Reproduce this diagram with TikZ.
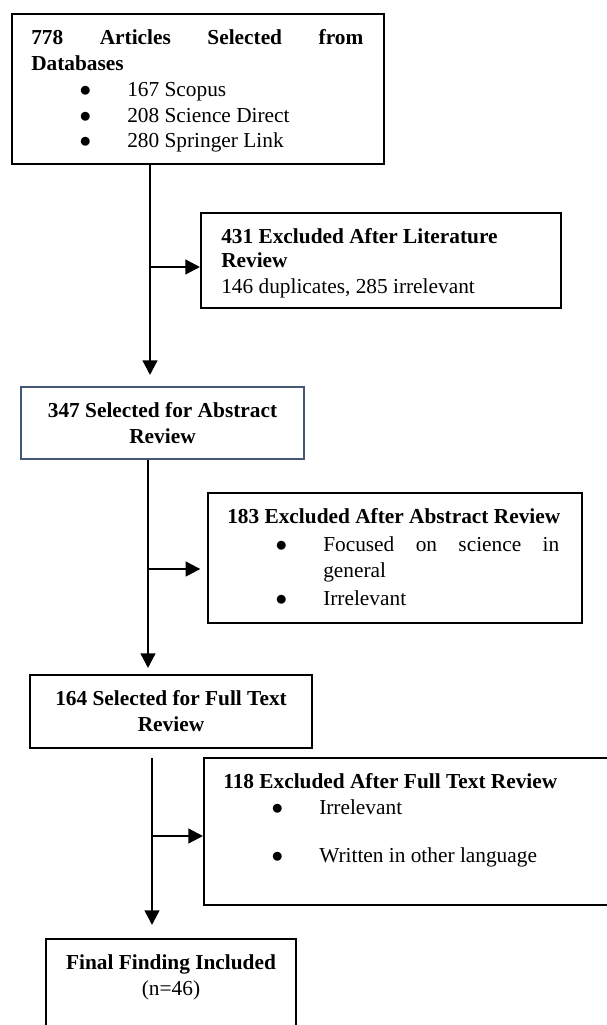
\documentclass[tikz,border=0pt]{standalone}
\usepackage{fontspec}
\setmainfont{Liberation Serif}
\usetikzlibrary{arrows.meta}

\definecolor{boxblue}{RGB}{68,87,117}

% text set inside every box
\newcommand{\boxfont}{\fontsize{16}{19.3}\selectfont\setlength\parindent{0pt}%
  \hyphenpenalty=10000\relax}
% one bulleted line, hanging under its own text
\newcommand{\bitem}[1]{\par\hangindent=72pt\hangafter=0\noindent\llap{\makebox[63pt]{$\bullet$}}#1\par}

\tikzset{
  box/.style={draw, line width=1.5pt, anchor=north west, inner sep=0pt},
  txt/.style={inner sep=0pt, font=\boxfont},
  flow/.style={line width=1.7pt, -{Triangle[length=11pt,width=11pt]}},
}

\begin{document}
\begin{tikzpicture}[x=0.75pt, y=-0.75pt]
  \useasboundingbox (0,0) rectangle (607,1025);
  \clip (0,0) rectangle (607,1025);

  % Records found in the databases
  \node[box, minimum width=279pt, minimum height=112.5pt] (b1) at (11,13) {};
  \node[txt, anchor=north west, text width=249pt, align=flush left, xshift=15pt, yshift=-12.4pt] (t1) at (b1.north west)
    {\textbf{778\hfill Articles\hfill Selected\hfill from}\\\textbf{Databases}
     \bitem{167 Scopus}
     \bitem{208 Science Direct}
     \bitem{280 Springer Link}};

  % First exclusion
  \node[box, minimum width=270pt, minimum height=71.25pt] (b2) at (200,212) {};
  \node[txt, anchor=north west, text width=250pt, align=flush left, xshift=15.75pt, yshift=-12.4pt] (t2) at (b2.north west)
    {\fontsize{16}{18}\selectfont
     \textbf{431 Excluded After Literature}\\\textbf{Review}\\146 duplicates, 285 irrelevant};

  % Abstract screening
  \node[box, draw=boxblue, minimum width=212.25pt, minimum height=54pt] (b3) at (20,386) {};
  \node[txt, anchor=north, text width=205pt, align=flush center, yshift=-12.4pt] (t3) at (b3.north)
    {\textbf{347 Selected for Abstract}\\\textbf{Review}};

  % Second exclusion
  \node[box, minimum width=280.5pt, minimum height=97.5pt] (b4) at (207,492) {};
  \node[txt, anchor=north west, text width=249pt, align=flush left, xshift=15pt, yshift=-12.4pt] (t4) at (b4.north west)
    {\setlength\parskip{1.5pt}\makebox[249pt][l]{\textbf{183 Excluded After Abstract Review}}
     \bitem{Focused\hfill on\hfill science\hfill in\break general}
     \bitem{Irrelevant}};

  % Full text screening
  \node[box, minimum width=211.5pt, minimum height=54.75pt] (b5) at (29,674) {};
  \node[txt, anchor=north, text width=205pt, align=flush center, yshift=-12.4pt] (t5) at (b5.north)
    {\textbf{164 Selected for Full Text}\\\textbf{Review}};

  % Third exclusion
  \node[box, minimum width=315pt, minimum height=110.25pt] (b6) at (203,757) {};
  \node[txt, anchor=north west, text width=270pt, align=flush left, xshift=15pt, yshift=-12.4pt] (t6) at (b6.north west)
    {\textbf{118 Excluded After Full Text Review}
     \bitem{Irrelevant}\vspace{16.5pt}
     \bitem{Written in other language}};

  % Included studies
  \node[box, minimum width=187.5pt, minimum height=82.5pt] (b7) at (45,938) {};
  \node[txt, anchor=north, text width=180pt, align=flush center, yshift=-12.4pt] (t7) at (b7.north)
    {\fontsize{16}{17.5}\selectfont\textbf{Final Finding Included}\\(n=46)};

  % Branch points on the main line
  \coordinate (j1) at (150,267);
  \coordinate (j2) at (148,569);
  \coordinate (j3) at (152,836);

  \draw[flow, shorten >=8.25pt] (b1.south -| j1) -- (b3.north -| j1);
  \draw[flow] (j1) -- (b2.west |- j1);
  \draw[flow, shorten >=4.5pt] (b3.south -| j2) -- (b5.north -| j2);
  \draw[flow, shorten >=5pt] (j2) -- (b4.west |- j2);
  \draw[flow, shorten <=6.75pt, shorten >=9.75pt] (b5.south -| j3) -- (b7.north -| j3);
  \draw[flow] (j3) -- (b6.west |- j3);
\end{tikzpicture}
\end{document}
